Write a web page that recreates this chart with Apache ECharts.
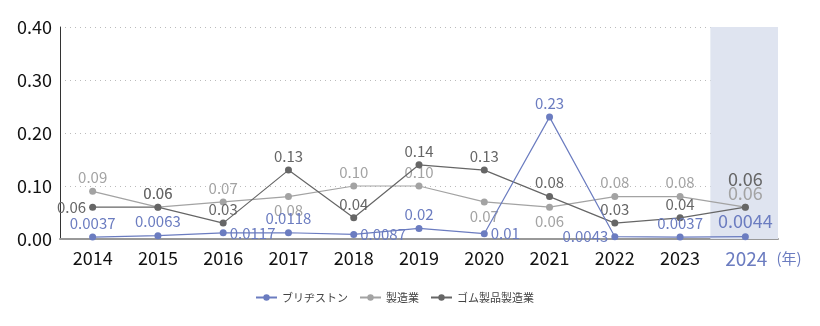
<!DOCTYPE html>
<html><head><meta charset="utf-8">
<script src="https://cdn.jsdelivr.net/npm/echarts@6/dist/echarts.min.js"></script>
<style>html,body{margin:0;padding:0;background:#fff}#c{width:820px;height:326px}</style>
</head><body><div id="c"></div>
<script>
const categories = ['2014','2015','2016','2017','2018','2019','2020','2021','2022','2023','2024'];
const bridgestone = [0.0037,0.0063,0.0117,0.0118,0.0087,0.02,0.01,0.23,0.0043,0.0037,0.0044];
const manufacturing = [0.09,0.06,0.07,0.08,0.10,0.10,0.07,0.06,0.08,0.08,0.06];
const rubber = [0.06,0.06,0.03,0.13,0.04,0.14,0.13,0.08,0.03,0.04,0.06];
const seriesNames = ['ブリヂストン','製造業','ゴム製品製造業'];
const highlightBand = [null,null,null,null,null,null,null,null,null,null,0.40];
const bsPos = ['top','top','right','top','right','top','right','top','left','top','top'];
const mfPos = ['top','top','top','bottom','top','top','bottom','bottom','top','top','top'];
const rbPos = ['left','top','top','top','top','top','top','top','top','top','top'];

const FONT = '"Noto Sans CJK JP","Noto Sans",sans-serif';
const BLUE = '#6b7cc0', LIGHT = '#a3a3a3', DARK = '#666666';
function fmt(v){ return Math.abs(Math.round(v*100)/100 - v) < 1e-9 ? v.toFixed(2) : String(v); }
function mk(vals, pos, color, last){
  return vals.map((v,i)=>{
    const lab = {show:true, position:pos[i], color:color, fontSize:15, fontFamily:FONT, formatter:p=>fmt(p.value), distance:3};
    if(i===vals.length-1 && last) Object.assign(lab, last);
    return {value:v, label:lab};
  });
}
const chart = echarts.init(document.getElementById('c'));
chart.setOption({
  animation:false,
  textStyle:{fontFamily:FONT},
  grid:{left:60,right:42,top:27,bottom:87},
  legend:{bottom:18,left:250,itemGap:11,itemWidth:21,itemHeight:8,
    textStyle:{fontSize:11,color:'#444',fontFamily:FONT},
    data:seriesNames},
  xAxis:{type:'category',data:categories,boundaryGap:true,
    axisLine:{lineStyle:{color:'#999',width:2}},axisTick:{show:false},
    axisLabel:{interval:0,margin:10,fontSize:18,color:'#111',fontFamily:FONT,
      formatter:(v)=> v==='2024' ? '{pad|}{hl|2024}{u|(年)}' : v,
      rich:{pad:{width:36},hl:{fontSize:19,color:BLUE,fontFamily:FONT},
            u:{fontSize:15,color:BLUE,fontFamily:FONT,padding:[0,0,0,9]}}}},
  yAxis:{type:'value',min:0,max:0.4,interval:0.1,
    axisLine:{show:true,lineStyle:{color:'#333',width:1}},axisTick:{show:false},
    splitLine:{lineStyle:{color:'#bbb',type:[1,4]}},
    axisLabel:{margin:8,fontSize:18,color:'#111',fontFamily:FONT,formatter:v=>v.toFixed(2)}},
  series:[
    {type:'bar',name:'band',data:highlightBand,barWidth:70,barGap:'-100%',z:0,silent:true,
     itemStyle:{color:'#dfe4f0'},legendHoverLink:false,tooltip:{show:false}},
    {type:'line',name:seriesNames[1],data:mk(manufacturing,mfPos,LIGHT,{fontSize:18,distance:2}),
     color:LIGHT,symbol:'circle',symbolSize:7,lineStyle:{width:1.2,color:LIGHT},itemStyle:{color:LIGHT},z:3},
    {type:'line',name:seriesNames[2],data:mk(rubber,rbPos,DARK,{fontSize:18,distance:16}),
     color:DARK,symbol:'circle',symbolSize:7,lineStyle:{width:1.2,color:DARK},itemStyle:{color:DARK},z:4},
    {type:'line',name:seriesNames[0],data:mk(bridgestone,bsPos,BLUE,{fontSize:18}),
     color:BLUE,symbol:'circle',symbolSize:7,lineStyle:{width:1.2,color:BLUE},itemStyle:{color:BLUE},z:5}
  ]
});
</script></body></html>
